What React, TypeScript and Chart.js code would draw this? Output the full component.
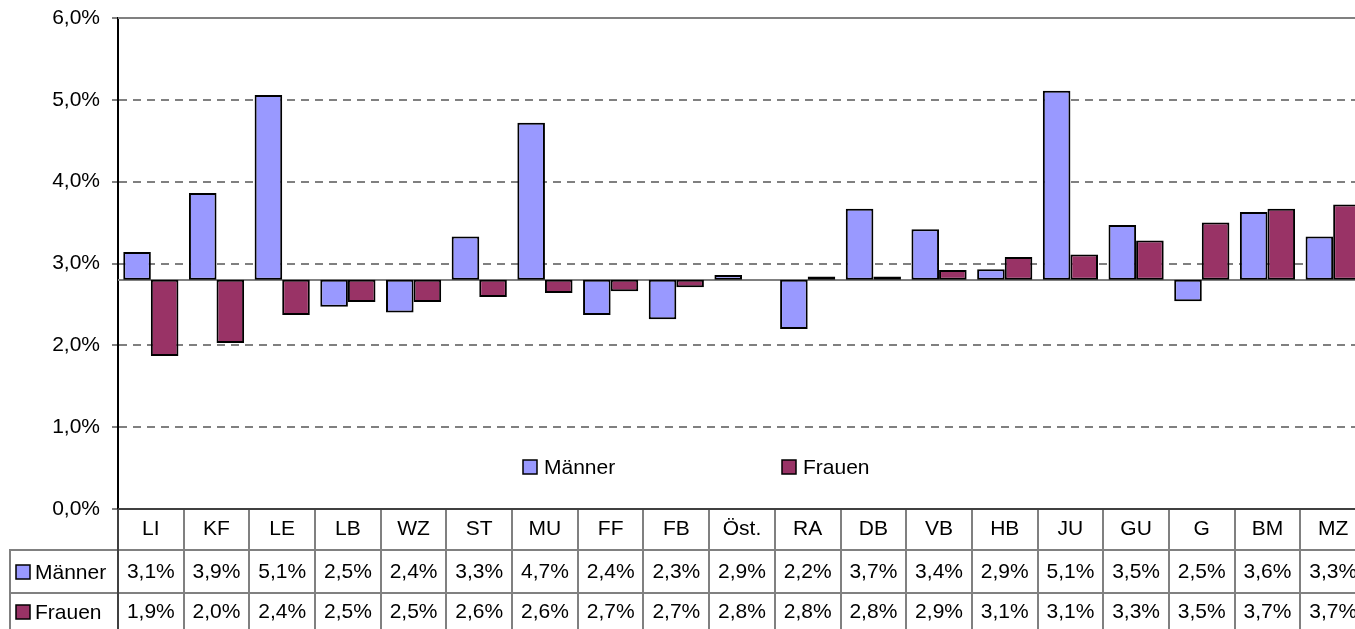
import React, { useEffect, useRef } from 'react';
import { Chart, registerables } from 'chart.js';

Chart.register(...registerables);

const categories = ['LI', 'KF', 'LE', 'LB', 'WZ', 'ST', 'MU', 'FF', 'FB', 'Öst.', 'RA', 'DB', 'VB', 'HB', 'JU', 'GU', 'G', 'BM', 'MZ'];
const maenner = [3.14, 3.86, 5.06, 2.47, 2.40, 3.33, 4.72, 2.37, 2.32, 2.86, 2.20, 3.67, 3.42, 2.93, 5.11, 3.47, 2.54, 3.63, 3.33];
const frauen = [1.87, 2.03, 2.37, 2.53, 2.53, 2.59, 2.64, 2.66, 2.71, 2.80, 2.84, 2.84, 2.92, 3.08, 3.11, 3.28, 3.50, 3.67, 3.72];
const baseline = 2.8;
const seriesNames = ['Männer', 'Frauen'];
const seriesColors = ['#9999FF', '#993366'];
const yMin = 0;
const yMax = 6;
const yStep = 1;

const FONT_FAMILY = '"Liberation Sans", Arial, sans-serif';
const FONT_SIZE = 21;

const fmt = (v: number) => v.toFixed(1).replace('.', ',') + '%';

const tablePlugin = {
  id: 'excelTable',
  beforeDatasetsDraw(chart: any) {
    const { ctx, chartArea, scales } = chart;
    const y = scales.y;
    ctx.save();
    ctx.strokeStyle = '#808080';
    ctx.lineWidth = 2;
    // top border (solid)
    const yt = Math.round(chartArea.top);
    ctx.beginPath();
    ctx.moveTo(chartArea.left, yt);
    ctx.lineTo(chartArea.right, yt);
    ctx.stroke();
    // baseline (category axis crossing)
    const yb = Math.round(y.getPixelForValue(baseline));
    ctx.beginPath();
    ctx.moveTo(chartArea.left, yb);
    ctx.lineTo(chartArea.right, yb);
    ctx.stroke();
    ctx.restore();
  },
  afterDraw(chart: any) {
    const { ctx, chartArea } = chart;
    const n = categories.length;
    const cw = (chartArea.right - chartArea.left) / n;
    const top = chartArea.bottom;
    const r1 = top + 41;
    const r2 = top + 84;
    const r3 = top + 135;
    const line = (x1: number, y1: number, x2: number, y2: number) => {
      ctx.beginPath();
      ctx.moveTo(x1, y1);
      ctx.lineTo(x2, y2);
      ctx.stroke();
    };
    ctx.save();
    ctx.strokeStyle = '#808080';
    ctx.lineWidth = 2;
    const h1 = Math.round(r1);
    const h2 = Math.round(r2);
    line(9, h1, chartArea.right, h1);
    line(9, h2, chartArea.right, h2);
    line(10, h1, 10, r3);
    for (let i = 1; i <= n; i++) {
      const xp = Math.round(chartArea.left + i * cw);
      line(xp, top, xp, r3);
    }
    // left border of the value columns (continuation of the value axis)
    ctx.strokeStyle = '#404040';
    line(Math.round(chartArea.left), top, Math.round(chartArea.left), r3);
    // top line of the table (category axis)
    line(chartArea.left, Math.round(top), chartArea.right, Math.round(top));

    ctx.font = `${FONT_SIZE}px ${FONT_FAMILY}`;
    ctx.fillStyle = '#000';
    ctx.textBaseline = 'middle';
    const rows = [maenner, frauen];
    const rowCenters = [572, 612].map((v) => v - 509 + top);
    rows.forEach((vals, r) => {
      const cy = rowCenters[r];
      ctx.textAlign = 'center';
      vals.forEach((v, i) => {
        const cx = chart.scales.x.getPixelForValue(i);
        ctx.fillText(fmt(v), cx, cy);
      });
      // row label with key
      ctx.fillStyle = seriesColors[r];
      ctx.fillRect(16, cy - 7, 14, 14);
      ctx.strokeStyle = '#000';
      ctx.lineWidth = 1.5;
      ctx.strokeRect(16, cy - 7, 14, 14);
      ctx.fillStyle = '#000';
      ctx.textAlign = 'left';
      ctx.fillText(seriesNames[r], 35, cy + 1);
    });

    // in-plot legend
    const legendX = [523, 782];
    const legendY = 467;
    seriesNames.forEach((name, r) => {
      const lx = legendX[r];
      ctx.fillStyle = seriesColors[r];
      ctx.fillRect(lx, legendY - 7, 14, 14);
      ctx.strokeStyle = '#000';
      ctx.lineWidth = 1.5;
      ctx.strokeRect(lx, legendY - 7, 14, 14);
      ctx.fillStyle = '#000';
      ctx.textAlign = 'left';
      ctx.fillText(name, lx + 21, legendY + 1);
    });
    ctx.restore();
  },
};

export default function App() {
  const canvasRef = useRef<HTMLCanvasElement | null>(null);

  useEffect(() => {
    const canvas = canvasRef.current;
    if (!canvas) return;
    const font = { family: FONT_FAMILY, size: FONT_SIZE };
    const chart = new Chart(canvas, {
      type: 'bar',
      data: {
        labels: categories,
        datasets: [maenner, frauen].map((vals, r) => ({
          label: seriesNames[r],
          data: vals.map((v) => [baseline, v]),
          backgroundColor: seriesColors[r],
          borderColor: '#000000',
          borderWidth: 2,
          borderSkipped: false,
          categoryPercentage: 0.84,
          barPercentage: 1,
        })) as any,
      },
      options: {
        responsive: false,
        animation: false,
        devicePixelRatio: 1,
        layout: { padding: { top: 18, left: 0, right: 0, bottom: 0 } },
        plugins: {
          legend: { display: false },
          tooltip: { enabled: false },
        },
        scales: {
          x: {
            grid: { display: false },
            border: { display: false },
            ticks: { font, color: '#000000', padding: 0, autoSkip: false, maxRotation: 0, minRotation: 0 },
            afterFit: (s: any) => {
              s.height = 120;
            },
          },
          y: {
            min: yMin,
            max: yMax,
            ticks: {
              stepSize: yStep,
              font,
              color: '#000000',
              padding: 12,
              callback: (v: any) => fmt(Number(v)),
            },
            grid: {
              color: (c: any) =>
                c.tick && (c.tick.value === yMin || c.tick.value === yMax) ? 'rgba(0,0,0,0)' : '#808080',
              tickColor: '#808080',
              tickLength: 6,
              tickWidth: 2,
              lineWidth: 2,
            },
            border: { display: true, color: '#000000', width: 2, dash: [8, 6] },
            afterFit: (s: any) => {
              s.width = 118;
              s.paddingTop = 4;
              s.paddingBottom = 4;
            },
          },
        },
      },
      plugins: [tablePlugin],
    });
    return () => chart.destroy();
  }, []);

  return (
    <div style={{ position: 'fixed', left: 0, top: 0, width: 1355, height: 629, overflow: 'hidden', background: '#fff' }}>
      <canvas ref={canvasRef} width={1366} height={629} style={{ display: 'block' }} />
    </div>
  );
}
